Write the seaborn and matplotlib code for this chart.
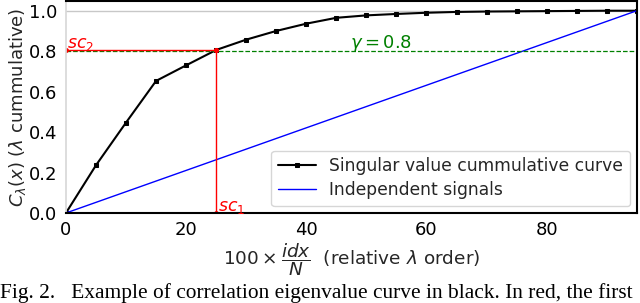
import numpy as np
import matplotlib
matplotlib.use("Agg")
import matplotlib.pyplot as plt
import seaborn as sns

# ─────────────────────────────────────────────
# DATA
# ─────────────────────────────────────────────
rel_order = [0, 5, 10, 15, 20, 25, 30, 35, 40, 45, 50, 55, 60, 65, 70, 75, 80, 85, 90, 95]
cumulative = [0.0, 0.236, 0.447, 0.653, 0.730, 0.806, 0.857, 0.900, 0.936, 0.965,
              0.977, 0.984, 0.990, 0.994, 0.996, 0.997, 0.998, 0.999, 1.0, 1.0]
indep_x = [0, 95]
indep_y = [0.0, 1.0]
gamma = 0.8
sc1 = 25
sc2 = cumulative[5]

sns.set_theme(style="whitegrid")
plt.rcParams["font.family"] = ["DejaVu Sans"]

fig = plt.figure(figsize=(6.4, 3.03), dpi=100)
ax = fig.add_axes([0.103, 0.297, 0.892, 0.701])
ax.grid(False)

sns.lineplot(x=rel_order, y=cumulative, ax=ax, color="black", marker="s",
             markersize=3, markeredgecolor="black", linewidth=1.5,
             label="Singular value cummulative curve")
sns.lineplot(x=indep_x, y=indep_y, ax=ax, color="blue", linewidth=1.0,
             label="Independent signals")

# threshold and selected point
ax.axhline(gamma, color="green", linestyle="--", linewidth=0.9)
ax.axhline(1.0, color="#c8c8c8", linewidth=1.0, zorder=0)
ax.plot([sc1, sc1], [0, sc2], color="red", linewidth=1.0, marker=".", markersize=5)
ax.plot([0, sc1], [sc2, sc2], color="red", linewidth=1.0, marker=".", markersize=5)
ax.text(0.2, sc2 + 0.012, r"$sc_2$", color="red", fontsize=12.5)
ax.text(sc1 + 0.3, 0.01, r"$sc_1$", color="red", fontsize=12.5)
ax.text(47.3, gamma + 0.015, r"$\gamma = 0.8$", color="green", fontsize=13)

ax.set_xlim(0, 95)
ax.set_ylim(0, 1.05)
ax.set_xticks([0, 20, 40, 60, 80])
ax.set_yticks([0.0, 0.2, 0.4, 0.6, 0.8, 1.0])
ax.tick_params(labelsize=13, pad=0, colors="black")
ax.set_xlabel(r"$100 \times \dfrac{idx}{N}$  (relative $\lambda$ order)", fontsize=13.3, labelpad=1)
ax.set_ylabel(r"$C_\lambda(x)$ ($\lambda$ cummulative)", fontsize=13, labelpad=1)

for side in ["top", "right", "bottom"]:
    ax.spines[side].set_color("black")
    ax.spines[side].set_linewidth(1.5)
ax.spines["left"].set_color("#d8d8d8")

ax.legend(loc="lower right", fontsize=12.3, frameon=True, borderpad=0.4,
          labelspacing=0.35, handlelength=2.2, borderaxespad=0.4,
          bbox_to_anchor=(1.0, 0.0))

fig.text(0.0, 0.018, "Fig. 2.   Example of correlation eigenvalue curve in black. In red, the first",
         family="Liberation Serif", fontsize=15.4, color="black")

fig.savefig("out.png", dpi=100)
